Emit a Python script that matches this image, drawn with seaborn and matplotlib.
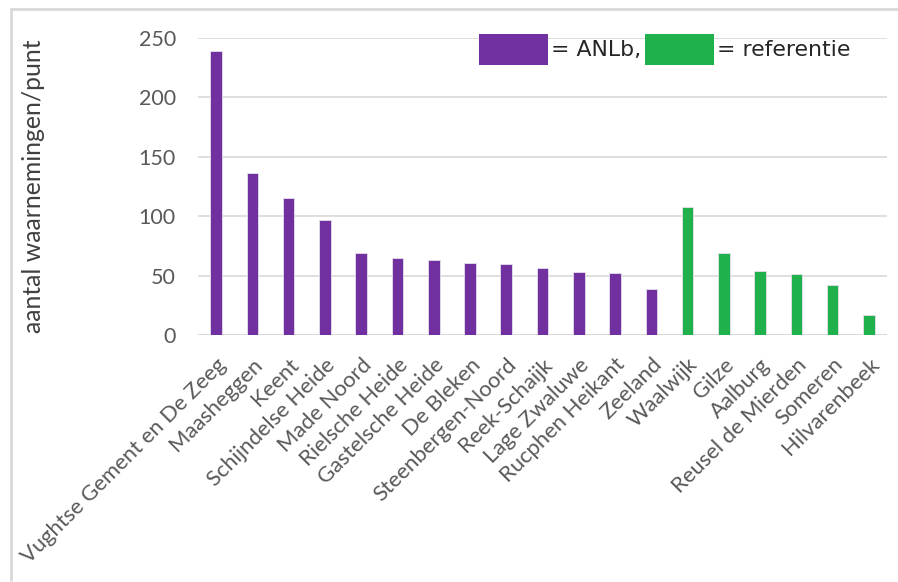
import matplotlib
matplotlib.use("Agg")
import matplotlib.pyplot as plt
import seaborn as sns
import pandas as pd
from matplotlib.patches import Rectangle
from matplotlib.lines import Line2D

# Sites and mean observations per point
sites = [
    "Vughtse Gement en De Zeeg", "Maasheggen", "Keent", "Schijndelse Heide",
    "Made Noord", "Rielsche Heide", "Gastelsche Heide", "De Bleken",
    "Steenbergen-Noord", "Reek-Schaijk", "Lage Zwaluwe", "Rucphen Heikant",
    "Zeeland", "Waalwijk", "Gilze", "Aalburg", "Reusel de Mierden",
    "Someren", "Hilvarenbeek",
]
counts = [239, 136, 115, 97, 69, 65, 63, 61, 60, 56, 53, 52, 39,
          108, 69, 54, 51, 42, 17]
groups = ["ANLb"] * 13 + ["referentie"] * 6
yticks = [0, 50, 100, 150, 200, 250]

colors = {"ANLb": "#7030A0", "referentie": "#21B14C"}

sns.set_theme(style="white")
plt.rcParams["font.family"] = ["Lato", "DejaVu Sans"]

df = pd.DataFrame({"site": sites, "count": counts, "group": groups})

fig = plt.figure(figsize=(8.98, 5.82), dpi=100)
ax = fig.add_axes([0.2205, 0.4244, 0.7673, 0.5103])

sns.barplot(data=df, x="site", y="count", hue="group", palette=colors,
            saturation=1, dodge=False, width=0.32, legend=False, ax=ax,
            edgecolor="#e6e0ee", linewidth=0.6, zorder=3)

ax.set_ylim(0, 250)
ax.set_xlim(-0.5, len(sites) - 0.5)
ax.set_yticks(yticks)
ax.set_yticklabels([str(v) for v in yticks])
ax.yaxis.grid(True, color="#d9d9d9", linewidth=1.2, zorder=0)
ax.set_axisbelow(True)
for s in ax.spines.values():
    s.set_visible(False)
ax.axhline(0, color="#d9d9d9", linewidth=1.4, zorder=1)

ax.tick_params(axis="y", length=0, pad=16, labelsize=15.5, labelcolor="#595959")
ax.tick_params(axis="x", length=0, pad=14, labelsize=15.8, labelcolor="#595959")
for lbl in ax.get_xticklabels():
    lbl.set_rotation(45)
    lbl.set_ha("right")
    lbl.set_rotation_mode("anchor")

ax.set_xlabel("")
ax.set_ylabel("aantal waarnemingen/punt", fontsize=17.8, color="#404040")
ax.yaxis.set_label_coords(-0.222, 0.5)

# Inline key in the top right
fig.patches.append(Rectangle((479 / 898, 1 - 65 / 582), 69 / 898, 31 / 582,
                             transform=fig.transFigure, facecolor=colors["ANLb"],
                             edgecolor="none"))
fig.patches.append(Rectangle((645 / 898, 1 - 65 / 582), 69 / 898, 31 / 582,
                             transform=fig.transFigure,
                             facecolor=colors["referentie"], edgecolor="none"))
fig.text(551 / 898, 1 - 49.5 / 582, "= ANLb,", fontsize=15.8, color="#262626",
         family=["DejaVu Sans"], va="center", ha="left")
fig.text(717 / 898, 1 - 49.5 / 582, "= referentie", fontsize=15.8,
         color="#262626", family=["DejaVu Sans"], va="center", ha="left")

# Frame lines along the top and left edge
fig.lines.append(Line2D([11 / 898, 11 / 898], [1 - 580 / 582, 1 - 9 / 582],
                        transform=fig.transFigure, color="#d9d9d9", linewidth=2))
fig.lines.append(Line2D([11 / 898, 1.0], [1 - 9 / 582, 1 - 9 / 582],
                        transform=fig.transFigure, color="#d9d9d9", linewidth=2))

fig.savefig("out.png", dpi=100, facecolor="white")
